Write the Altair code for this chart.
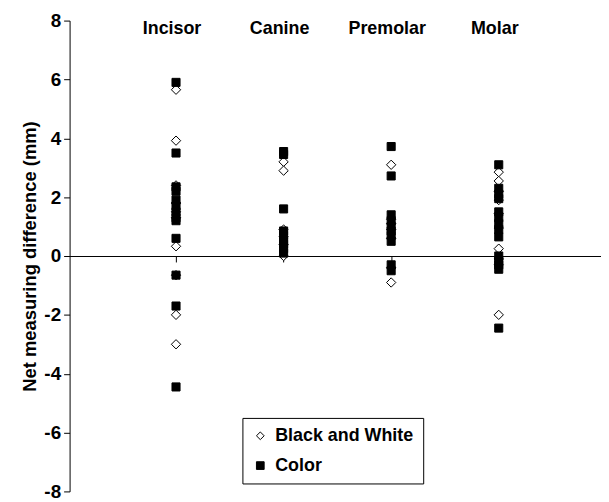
import altair as alt
import pandas as pd

FONT = "Liberation Sans, Arial, sans-serif"

categories = ["Incisor", "Canine", "Premolar", "Molar"]
series_names = ["Black and White", "Color"]
y_ticks = [-8, -6, -4, -2, 0, 2, 4, 6, 8]

incisor_bw = [5.65, 3.92, 2.4, 1.8, 1.5, 1.3, 0.33, -0.65, -2.0, -3.0]
incisor_color = [5.9, 3.5, 2.35, 2.2, 1.9, 1.7, 1.5, 1.3, 1.2, 0.6, -0.65, -1.7, -4.45]
canine_bw = [3.2, 2.9, 0.9, 0.65, 0.4, 0.0]
canine_color = [3.55, 3.45, 1.6, 0.85, 0.7, 0.5, 0.4, 0.25, 0.1]
premolar_bw = [3.1, 1.25, 1.1, 0.9, 0.6, -0.4, -0.9]
premolar_color = [3.72, 2.72, 1.4, 1.2, 1.0, 0.85, 0.7, 0.5, -0.3, -0.5]
molar_bw = [2.85, 2.55, 2.2, 1.9, 1.45, 0.95, 0.25, -0.1, -0.3, -2.0]
molar_color = [3.1, 2.3, 2.1, 1.95, 1.5, 1.3, 1.1, 0.9, 0.65, 0.0, -0.15, -0.3, -0.45, -2.45]

bw = {"Incisor": incisor_bw, "Canine": canine_bw, "Premolar": premolar_bw, "Molar": molar_bw}
color = {"Incisor": incisor_color, "Canine": canine_color, "Premolar": premolar_color, "Molar": molar_color}

rows = []
for name, src in [(series_names[0], bw), (series_names[1], color)]:
    for cat in categories:
        for v in src[cat]:
            rows.append({"category": cat, "series": name, "value": v})
df = pd.DataFrame(rows)
cat_df = pd.DataFrame({"category": categories})

H = 474

x_enc = alt.X(
    "category:N",
    sort=categories,
    scale=alt.Scale(type="point", padding=0.97, align=0.51),
    axis=alt.Axis(
        orient="bottom", offset=-H / 2, labels=False, title=None, grid=False,
        domainColor="black", domainWidth=1, tickColor="black", tickSize=6, tickWidth=1,
    ),
)

legend = alt.Legend(
    title=None, orient="none", legendX=174, legendY=400,
    strokeColor="black", fillColor="white", padding=9,
    labelFontSize=18, labelFontWeight="bold", labelFont=FONT, labelColor="black",
    symbolSize=60, rowPadding=12, symbolStrokeWidth=1,
    labelOffset=6, labelLimit=0,
)

points = alt.Chart(df).mark_point(opacity=1, strokeWidth=1).encode(
    x=x_enc,
    y=alt.Y(
        "value:Q",
        scale=alt.Scale(domain=[-8, 8], nice=False, zero=False),
        axis=alt.Axis(
            values=y_ticks, title="Net measuring difference (mm)", grid=False,
            domainColor="black", tickColor="black", tickSize=6,
            labelFontSize=19, labelFontWeight="bold", labelColor="black", labelFont=FONT,
            labelExpr="datum.value < 0 ? '-' + abs(datum.value) : '' + datum.value",
            titleFontSize=18.5, titleFontWeight="bold", titleColor="black", titleFont=FONT,
            labelPadding=3, titlePadding=4,
        ),
    ),
    shape=alt.Shape("series:N", scale=alt.Scale(domain=series_names, range=["diamond", "square"]), legend=legend),
    fill=alt.Fill("series:N", scale=alt.Scale(domain=series_names, range=["white", "black"]), legend=legend),
    stroke=alt.Stroke("series:N", scale=alt.Scale(domain=series_names, range=["black", "black"]), legend=legend),
    size=alt.condition(alt.datum.series == "Color", alt.value(66), alt.value(88)),
)

labels = alt.Chart(cat_df).mark_text(
    fontSize=18, fontWeight="bold", font=FONT, color="black", baseline="middle", dx=-4
).encode(
    x=x_enc,
    y=alt.datum(7.73),
    text="category:N",
)

chart = alt.layer(points, labels).properties(
    width=535, height=H,
    autosize=alt.AutoSizeParams(type="none"),
    padding={"left": 62, "top": 11, "right": 0, "bottom": 12},
).configure_view(stroke=None)

chart.save("out.html", embed_options={"renderer": "svg", "actions": False})
